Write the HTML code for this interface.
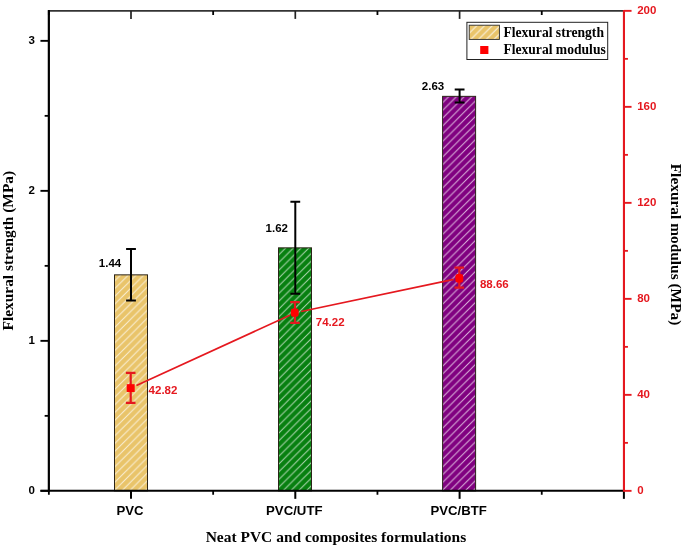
<!DOCTYPE html>
<html><head><meta charset="utf-8"><title>Flexural strength and modulus</title>
<style>html,body{margin:0;padding:0;background:#fff}svg{display:block;will-change:transform;opacity:0.999}.sans{font-family:"Liberation Sans",Arial,sans-serif;font-weight:bold}.serif{font-family:"Liberation Serif","Times New Roman",serif;font-weight:bold}</style></head><body>
<svg width="685" height="555" viewBox="0 0 685 555">
<defs>
<pattern id="h1" patternUnits="userSpaceOnUse" width="7.75" height="7.75" patternTransform="translate(114.3,444.1)"><path d="M-1,8.75 L8.75,-1 M-1,1 L1,-1 M6.75,8.75 L8.75,6.75" stroke="#fff" stroke-opacity="0.72" stroke-width="1.0" fill="none"/></pattern>
<pattern id="h2" patternUnits="userSpaceOnUse" width="7.75" height="7.75" patternTransform="translate(278.9,487.2)"><path d="M-1,8.75 L8.75,-1 M-1,1 L1,-1 M6.75,8.75 L8.75,6.75" stroke="#fff" stroke-opacity="0.68" stroke-width="1.0" fill="none"/></pattern>
<pattern id="h3" patternUnits="userSpaceOnUse" width="7.75" height="7.75" patternTransform="translate(442.8,490.0)"><path d="M-1,8.75 L8.75,-1 M-1,1 L1,-1 M6.75,8.75 L8.75,6.75" stroke="#fff" stroke-opacity="0.72" stroke-width="1.0" fill="none"/></pattern>
<pattern id="hatch" patternUnits="userSpaceOnUse" width="7.75" height="7.75" patternTransform="translate(470.8,39.4)"><path d="M-1,8.75 L8.75,-1 M-1,1 L1,-1 M6.75,8.75 L8.75,6.75" stroke="#fff" stroke-opacity="0.85" stroke-width="1.0" fill="none"/></pattern>
</defs>
<rect width="685" height="555" fill="#fff"/>
<rect x="114.50" y="274.85" width="33" height="216.00" fill="#e9c46a"/>
<rect x="114.50" y="274.85" width="33" height="216.00" fill="url(#h1)" stroke="#2b2418" stroke-width="1"/>
<rect x="278.50" y="247.85" width="33" height="243.00" fill="#078010"/>
<rect x="278.50" y="247.85" width="33" height="243.00" fill="url(#h2)" stroke="#2b2418" stroke-width="1"/>
<rect x="442.60" y="96.35" width="33" height="394.50" fill="#800080"/>
<rect x="442.60" y="96.35" width="33" height="394.50" fill="url(#h3)" stroke="#2b2418" stroke-width="1"/>
<path d="M131.00,249.0 V300.4 M126.10,249.0 H135.90 M126.10,300.4 H135.90" stroke="#000" stroke-width="2" fill="none"/>
<path d="M295.30,201.7 V293.7 M290.40,201.7 H300.20 M290.40,293.7 H300.20" stroke="#000" stroke-width="2" fill="none"/>
<path d="M459.60,89.6 V102.4 M454.70,89.6 H464.50 M454.70,102.4 H464.50" stroke="#000" stroke-width="2" fill="none"/>
<path d="M48.85,10.9 H623.95" stroke="#333" stroke-width="1.7" fill="none"/>
<path d="M48.85,10.0 V491.85" stroke="#000" stroke-width="2.2" fill="none"/>
<path d="M40.45,490.85 H623.95" stroke="#000" stroke-width="2" fill="none"/>
<path d="M131.00,490.85 v8" stroke="#000" stroke-width="2" fill="none"/>
<path d="M131.00,10.9 v8" stroke="#222" stroke-width="1.7" fill="none"/>
<path d="M295.30,490.85 v8" stroke="#000" stroke-width="2" fill="none"/>
<path d="M295.30,10.9 v8" stroke="#222" stroke-width="1.7" fill="none"/>
<path d="M459.60,490.85 v8" stroke="#000" stroke-width="2" fill="none"/>
<path d="M459.60,10.9 v8" stroke="#222" stroke-width="1.7" fill="none"/>
<path d="M623.90,490.85 v8" stroke="#000" stroke-width="2" fill="none"/>
<path d="M623.90,10.9 v8" stroke="#222" stroke-width="1.7" fill="none"/>
<path d="M48.85,490.85 v4 M48.85,10.9 v4" stroke="#000" stroke-width="1.8" fill="none"/>
<path d="M213.15,490.85 v4 M213.15,10.9 v4" stroke="#000" stroke-width="1.8" fill="none"/>
<path d="M377.45,490.85 v4 M377.45,10.9 v4" stroke="#000" stroke-width="1.8" fill="none"/>
<path d="M541.75,490.85 v4 M541.75,10.9 v4" stroke="#000" stroke-width="1.8" fill="none"/>
<path d="M48.85,490.85 h-8.4" stroke="#000" stroke-width="1.9" fill="none"/>
<text class="sans" x="34.9" y="494.15" font-size="11.5" text-anchor="end" fill="#000">0</text>
<path d="M48.85,340.85 h-8.4" stroke="#000" stroke-width="1.9" fill="none"/>
<text class="sans" x="34.9" y="344.15" font-size="11.5" text-anchor="end" fill="#000">1</text>
<path d="M48.85,190.85 h-8.4" stroke="#000" stroke-width="1.9" fill="none"/>
<text class="sans" x="34.9" y="194.15" font-size="11.5" text-anchor="end" fill="#000">2</text>
<path d="M48.85,40.85 h-8.4" stroke="#000" stroke-width="1.9" fill="none"/>
<text class="sans" x="34.9" y="44.15" font-size="11.5" text-anchor="end" fill="#000">3</text>
<path d="M48.85,415.85 h-4.2" stroke="#000" stroke-width="1.8" fill="none"/>
<path d="M48.85,265.85 h-4.2" stroke="#000" stroke-width="1.8" fill="none"/>
<path d="M48.85,115.85 h-4.2" stroke="#000" stroke-width="1.8" fill="none"/>
<path d="M136.45,385.58 L289.85,315.22" stroke="#e5181f" stroke-width="1.7" fill="none"/>
<path d="M301.17,311.48 L453.73,279.30" stroke="#e5181f" stroke-width="1.7" fill="none"/>
<path d="M130.70,372.8 V402.8 M125.90,372.8 H135.50 M125.90,402.8 H135.50" stroke="#e5181f" stroke-width="2.2" fill="none"/>
<path d="M295.00,302.1 V322.9 M290.20,302.1 H299.80 M290.20,322.9 H299.80" stroke="#e5181f" stroke-width="2.2" fill="none"/>
<path d="M459.30,267.7 V287.7 M454.50,267.7 H464.10 M454.50,287.7 H464.10" stroke="#e5181f" stroke-width="2.2" fill="none"/>
<rect x="126.70" y="384.18" width="8" height="7.8" fill="#ff0000"/>
<rect x="290.80" y="308.57" width="7.9" height="8.3" rx="2.4" fill="#ff0000"/>
<rect x="455.35" y="274.07" width="7.9" height="8.6" rx="2.4" fill="#ff0000"/>
<path d="M623.95,10.0 V491.85" stroke="#e5181f" stroke-width="2.1" fill="none"/>
<path d="M623.95,490.85 h7.6" stroke="#e5181f" stroke-width="1.9" fill="none"/>
<text class="sans" x="637.2" y="493.90" font-size="11.5" fill="#e5181f">0</text>
<path d="M623.95,394.85 h7.6" stroke="#e5181f" stroke-width="1.9" fill="none"/>
<text class="sans" x="637.2" y="397.90" font-size="11.5" fill="#e5181f">40</text>
<path d="M623.95,298.85 h7.6" stroke="#e5181f" stroke-width="1.9" fill="none"/>
<text class="sans" x="637.2" y="301.90" font-size="11.5" fill="#e5181f">80</text>
<path d="M623.95,202.85 h7.6" stroke="#e5181f" stroke-width="1.9" fill="none"/>
<text class="sans" x="637.2" y="205.90" font-size="11.5" fill="#e5181f">120</text>
<path d="M623.95,106.85 h7.6" stroke="#e5181f" stroke-width="1.9" fill="none"/>
<text class="sans" x="637.2" y="109.90" font-size="11.5" fill="#e5181f">160</text>
<path d="M623.95,10.85 h7.6" stroke="#e5181f" stroke-width="1.9" fill="none"/>
<text class="sans" x="637.2" y="13.90" font-size="11.5" fill="#e5181f">200</text>
<path d="M623.95,442.85 h4" stroke="#e5181f" stroke-width="1.8" fill="none"/>
<path d="M623.95,346.85 h4" stroke="#e5181f" stroke-width="1.8" fill="none"/>
<path d="M623.95,250.85 h4" stroke="#e5181f" stroke-width="1.8" fill="none"/>
<path d="M623.95,154.85 h4" stroke="#e5181f" stroke-width="1.8" fill="none"/>
<path d="M623.95,58.85 h4" stroke="#e5181f" stroke-width="1.8" fill="none"/>
<text class="sans" x="98.8" y="267.3" font-size="11.5" fill="#000">1.44</text>
<text class="sans" x="265.6" y="232.0" font-size="11.5" fill="#000">1.62</text>
<text class="sans" x="421.8" y="90.4" font-size="11.5" fill="#000">2.63</text>
<text class="sans" x="148.6" y="394.1" font-size="11.5" fill="#e5181f">42.82</text>
<text class="sans" x="315.8" y="326.0" font-size="11.5" fill="#e5181f">74.22</text>
<text class="sans" x="479.9" y="288.0" font-size="11.5" fill="#e5181f">88.66</text>
<text class="sans" x="130.00" y="515" font-size="13.2" text-anchor="middle" fill="#000">PVC</text>
<text class="sans" x="294.30" y="515" font-size="13.2" text-anchor="middle" fill="#000">PVC/UTF</text>
<text class="sans" x="458.60" y="515" font-size="13.2" text-anchor="middle" fill="#000">PVC/BTF</text>
<text class="serif" x="205.7" y="542.3" font-size="15.4" textLength="260.5" lengthAdjust="spacingAndGlyphs" fill="#000">Neat PVC and composites formulations</text>
<text class="serif" transform="translate(13.1,330.4) rotate(-90)" font-size="15.4" textLength="159.5" lengthAdjust="spacingAndGlyphs" fill="#000">Flexural strength (MPa)</text>
<text class="serif" transform="translate(671,163.7) rotate(90)" font-size="15.4" textLength="161.7" lengthAdjust="spacingAndGlyphs" fill="#000">Flexural modulus (MPa)</text>
<rect x="466.9" y="22.3" width="140.8" height="37.2" fill="#fff" stroke="#222" stroke-width="1"/>
<rect x="469.2" y="25.2" width="30.2" height="14.2" fill="#e9c46a"/>
<rect x="469.2" y="25.2" width="30.2" height="14.2" fill="url(#hatch)" stroke="#2a2a2a" stroke-width="0.9"/>
<rect x="480.2" y="46" width="8.2" height="8" fill="#ff0000"/>
<text class="serif" x="503.4" y="36.8" font-size="13.6" fill="#000">Flexural strength</text>
<text class="serif" x="503.4" y="53.9" font-size="13.6" fill="#000">Flexural modulus</text>
</svg></body></html>
